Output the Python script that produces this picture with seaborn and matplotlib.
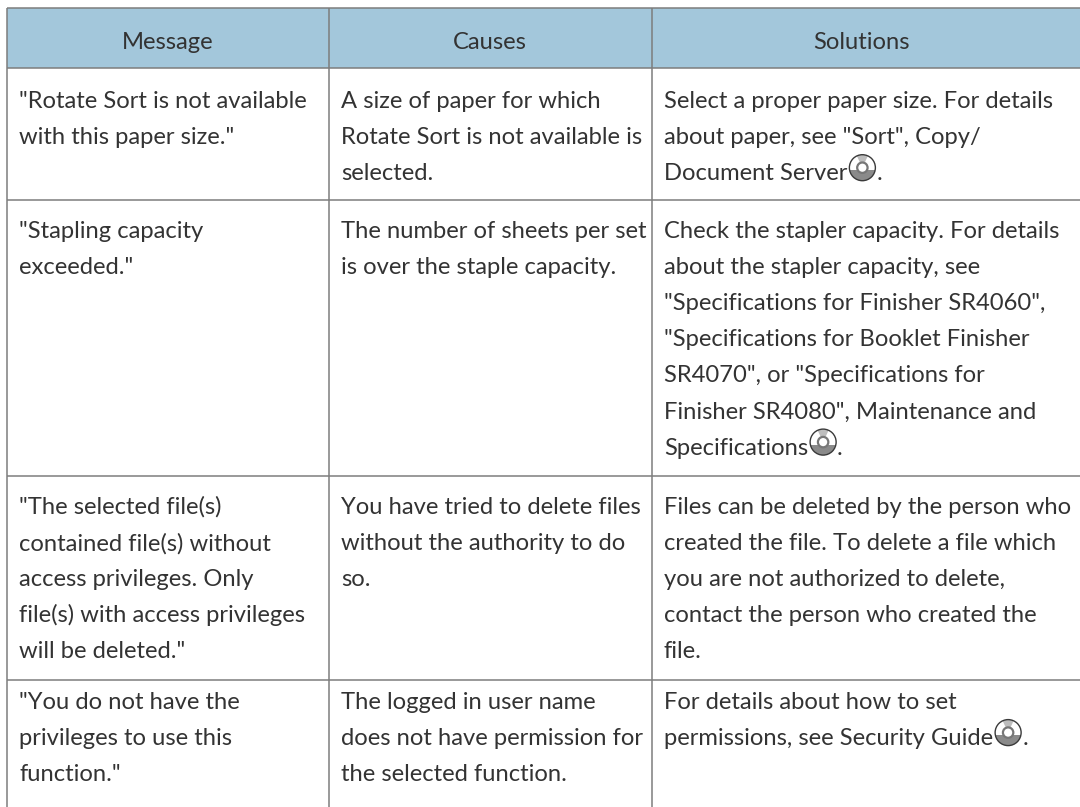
import matplotlib.pyplot as plt
import seaborn as sns
from matplotlib.patches import Circle, Wedge, Rectangle

headers = ['Message', 'Causes', 'Solutions']

messages = [
    ['"Rotate Sort is not available', 'with this paper size."'],
    ['"Stapling capacity', 'exceeded."'],
    ['"The selected file(s)', 'contained file(s) without', 'access privileges. Only',
     'file(s) with access privileges', 'will be deleted."'],
    ['"You do not have the', 'privileges to use this', 'function."'],
]
causes = [
    ['A size of paper for which', 'Rotate Sort is not available is', 'selected.'],
    ['The number of sheets per set', 'is over the staple capacity.'],
    ['You have tried to delete files', 'without the authority to do', 'so.'],
    ['The logged in user name', 'does not have permission for', 'the selected function.'],
]
solutions = [
    ['Select a proper paper size. For details', 'about paper, see "Sort", Copy/', 'Document Server@.'],
    ['Check the stapler capacity. For details', 'about the stapler capacity, see',
     '"Specifications for Finisher SR4060",', '"Specifications for Booklet Finisher',
     'SR4070", or "Specifications for', 'Finisher SR4080", Maintenance and', 'Specifications@.'],
    ['Files can be deleted by the person who', 'created the file. To delete a file which',
     'you are not authorized to delete,', 'contact the person who created the', 'file.'],
    ['For details about how to set', 'permissions, see Security Guide@.'],
]

col_edges = [7, 329, 651.5, 1080]
row_edges = [8, 68, 200, 476, 680, 807]

sns.set_theme(style='white')
plt.rcParams['font.family'] = ['Lato', 'DejaVu Sans']

INK = '#333333'
RULE = '#7d7d7d'
HEAD = '#a3c7db'
FS = 17.1

fig, ax = plt.subplots(figsize=(10.8, 8.07), dpi=100)
fig.subplots_adjust(0, 0, 1, 1)
ax.set_xlim(0, 1080)
ax.set_ylim(807, 0)
ax.axis('off')

# header band and rules
ax.add_patch(Rectangle((col_edges[0], row_edges[0]), col_edges[-1] - col_edges[0],
                       row_edges[1] - row_edges[0], fc=HEAD, ec='none'))
ax.hlines(row_edges[:-1], col_edges[0], col_edges[-1], color=RULE, lw=1.1)
ax.vlines(col_edges[:-1], row_edges[0], row_edges[-1], color=RULE, lw=1.1)

for i, h in enumerate(headers):
    ax.text((col_edges[i] + col_edges[i + 1] - (8 if i == 2 else 0)) / 2, 49, h, ha='center',
            va='baseline', fontsize=FS, color=INK)


def draw_disc(x, y, r=13):
    edge = Circle((x, y), r, fc='white', ec='none', zorder=3)
    ax.add_patch(edge)
    # lower band sits a little under the centre, clipped to the disc
    band = Rectangle((x - r, y + 2.5), 2 * r, r, fc='#8a8a8a', ec='none', zorder=4)
    ax.add_patch(band)
    band.set_clip_path(edge)
    # y axis is inverted, so angles run clockwise on screen
    ax.add_patch(Wedge((x, y), r, 245, 295, fc='#bdbdbd', ec='none', zorder=4))
    ax.add_patch(Circle((x, y), r, fc='none', ec='#3a3a3a', lw=1.0, zorder=5))
    ax.add_patch(Circle((x, y), 5.2, fc='white', ec='#777777', lw=1.6, zorder=6))


def draw_line(x, y, line):
    if not line.endswith('@.'):
        ax.text(x, y, line, va='baseline', fontsize=FS, color=INK)
        return
    t = ax.text(x, y, line[:-2], va='baseline', fontsize=FS, color=INK)
    bb = t.get_window_extent(fig.canvas.get_renderer())
    end = ax.transData.inverted().transform((bb.x1, bb.y0))[0]
    draw_disc(end + 15, y - 12.5)
    ax.text(end + 29, y, '.', va='baseline', fontsize=FS, color=INK)


first_baseline = [108, 238, 514, 709]
LEAD = 36.1
text_x = [19, 341, 664]
for c, col in enumerate([messages, causes, solutions]):
    for r, lines in enumerate(col):
        for k, line in enumerate(lines):
            draw_line(text_x[c], first_baseline[r] + k * LEAD, line)

sns.despine(ax=ax, left=True, bottom=True)
fig.savefig('out.png', dpi=100)
